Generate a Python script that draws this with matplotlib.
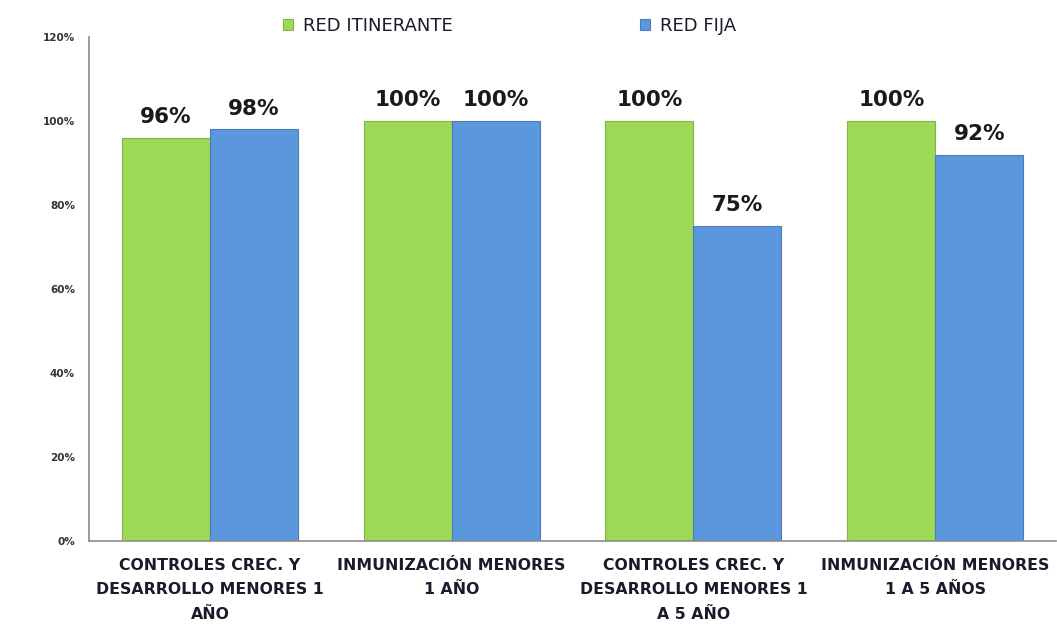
import matplotlib
matplotlib.use("Agg")
import matplotlib.pyplot as plt
import numpy as np
from matplotlib.ticker import FuncFormatter

categories = [
    "CONTROLES CREC. Y\nDESARROLLO MENORES 1\nAÑO",
    "INMUNIZACIÓN MENORES\n1 AÑO",
    "CONTROLES CREC. Y\nDESARROLLO MENORES 1\nA 5 AÑO",
    "INMUNIZACIÓN MENORES\n1 A 5 AÑOS",
]
red_itinerante = [96, 100, 100, 100]
red_fija = [98, 100, 75, 92]
series_names = ["RED ITINERANTE", "RED FIJA"]
y_ticks = [0, 20, 40, 60, 80, 100, 120]

plt.rcParams["font.family"] = ["DejaVu Sans"]

fig = plt.figure(figsize=(10.57, 6.24), dpi=100)
ax = fig.add_axes([0.0842, 0.133, 0.915, 0.8077])

x = np.arange(len(categories))
w = 0.364
green = "#9BD957"
blue = "#5B97DC"
b1 = ax.bar(x - w / 2, red_itinerante, w, color=green, edgecolor="#7FB543", linewidth=0.8,
            label=series_names[0])
b2 = ax.bar(x + w / 2, red_fija, w, color=blue, edgecolor="#4A7DB8", linewidth=0.8,
            label=series_names[1])

for bars, vals in ((b1, red_itinerante), (b2, red_fija)):
    for rect, v in zip(bars, vals):
        ax.annotate(f"{v}%", (rect.get_x() + rect.get_width() / 2, v),
                    xytext=(0, 10.5), textcoords="offset points", ha="center", va="baseline",
                    fontsize=15.5, fontweight="bold", color="#1a1a1a")

ax.set_xlim(-0.5, 3.5)
ax.set_ylim(0, 120)
ax.set_yticks(y_ticks)
ax.yaxis.set_major_formatter(FuncFormatter(lambda v, p: f"{int(v)}%"))
ax.tick_params(axis="y", length=0, pad=10, labelsize=7.5, labelcolor="#333333")
for lbl in ax.get_yticklabels():
    lbl.set_fontweight("bold")
ax.tick_params(axis="x", length=0, pad=12)
ax.set_xticks(x)
ax.set_xticklabels(categories, fontsize=11.3, fontweight="bold", color="#1a1a2a",
                   linespacing=1.8)

for s in ("top", "right"):
    ax.spines[s].set_visible(False)
for s in ("left", "bottom"):
    ax.spines[s].set_color("#8c8c8c")
    ax.spines[s].set_linewidth(1.2)

leg = fig.legend(handles=[b1, b2], labels=series_names, loc="center left",
                 bbox_to_anchor=(283 / 1057, 1 - 26 / 624), ncol=2, frameon=False,
                 fontsize=13, borderpad=0, borderaxespad=0,
                 handlelength=0.55, handleheight=0.55, handletextpad=0.55, columnspacing=10.4)
for t in leg.get_texts():
    t.set_color("#1a1a2a")

fig.savefig("out.png", dpi=100)
